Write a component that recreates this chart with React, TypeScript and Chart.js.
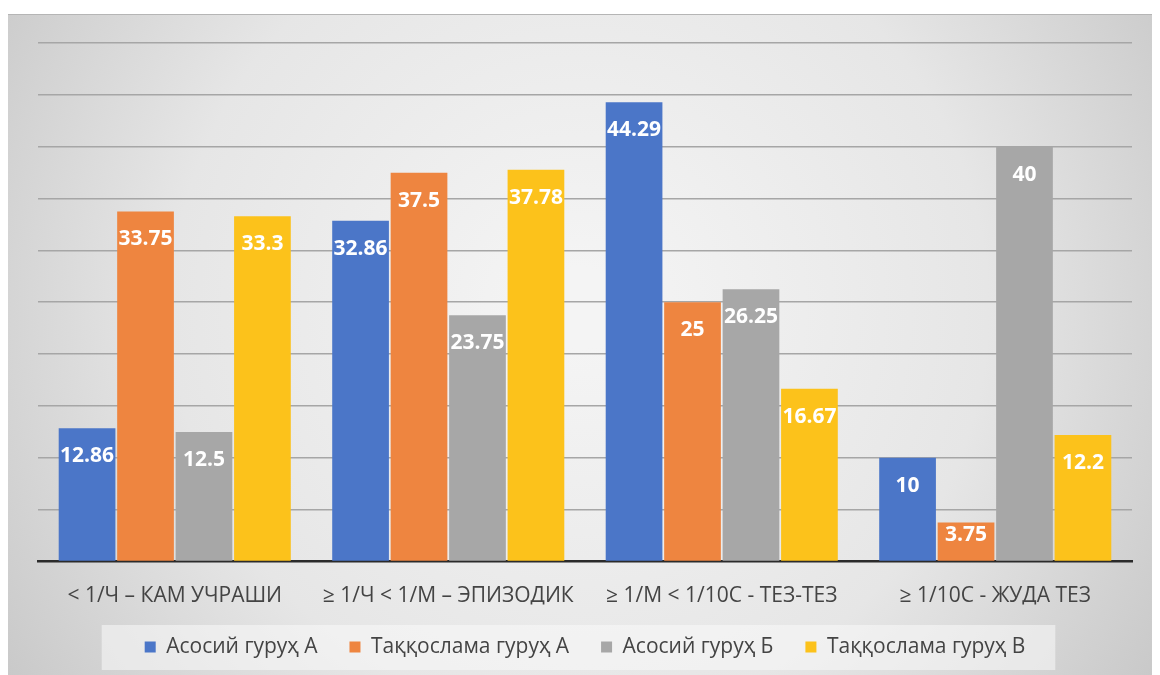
import React, { useEffect, useRef } from "react";
import { Chart, registerables } from "chart.js";

Chart.register(...registerables);

const categories = [
  "< 1/Ч – КАМ УЧРАШИ",
  "≥ 1/Ч < 1/М – ЭПИЗОДИК",
  "≥ 1/М < 1/10С - ТЕЗ-ТЕЗ",
  "≥ 1/10С - ЖУДА ТЕЗ",
];
const seriesNames = [
  "Асосий гуруҳ А",
  "Таққослама гуруҳ А",
  "Асосий гуруҳ Б",
  "Таққослама гуруҳ В",
];
const asosiyA = [12.86, 32.86, 44.29, 10];
const taqqoslamaA = [33.75, 37.5, 25, 3.75];
const asosiyB = [12.5, 23.75, 26.25, 40];
const taqqoslamaV = [33.3, 37.78, 16.67, 12.2];
const colors = ["#4b76c8", "#ee8540", "#a7a7a7", "#fcc21b"];

const FONT = "'Open Sans', 'DejaVu Sans', sans-serif";

const backgroundPlugin = {
  id: "bgPlugin",
  beforeDraw(chart: any) {
    const { ctx, width, height } = chart;
    ctx.save();
    const top = 6;
    const g = ctx.createRadialGradient(width / 2, height * 0.45, 40, width / 2, height * 0.45, width * 0.62);
    g.addColorStop(0, "#f4f4f4");
    g.addColorStop(0.55, "#e6e6e6");
    g.addColorStop(1, "#c6c6c6");
    ctx.fillStyle = g;
    ctx.fillRect(0, top, width, height - top);
    ctx.strokeStyle = "#b5b5b5";
    ctx.lineWidth = 1;
    ctx.beginPath();
    ctx.moveTo(0, top + 0.5);
    ctx.lineTo(width, top + 0.5);
    ctx.stroke();
    const lg = chart.legend;
    if (lg && lg.legendHitBoxes && lg.legendHitBoxes.length) {
      const hbs = lg.legendHitBoxes;
      let minL = Infinity, maxR = -Infinity, minT = Infinity, maxB = -Infinity;
      hbs.forEach((h: any) => {
        minL = Math.min(minL, h.left);
        maxR = Math.max(maxR, h.left + h.width);
        minT = Math.min(minT, h.top);
        maxB = Math.max(maxB, h.top + h.height);
      });
      ctx.fillStyle = "rgba(250,250,250,0.55)";
      ctx.fillRect(minL - 43, minT - 11.5, maxR - minL + 73, maxB - minT + 24);
    }
    ctx.restore();
  },
};

const labelPlugin = {
  id: "barLabels",
  afterDatasetsDraw(chart: any) {
    const { ctx } = chart;
    ctx.save();
    ctx.fillStyle = "#ffffff";
    ctx.font = `bold 21px ${FONT}`;
    ctx.textAlign = "center";
    ctx.textBaseline = "middle";
    chart.data.datasets.forEach((ds: any, i: number) => {
      const meta = chart.getDatasetMeta(i);
      meta.data.forEach((bar: any, j: number) => {
        const h = bar.base - bar.y;
        const off = Math.min(28, h / 3);
        ctx.fillText(String(ds.data[j]), bar.x, bar.y + off);
      });
    });
    ctx.restore();
  },
};

export default function App() {
  const ref = useRef<HTMLCanvasElement>(null);
  useEffect(() => {
    if (!ref.current) return;
    const datasets = [asosiyA, taqqoslamaA, asosiyB, taqqoslamaV].map((d, i) => ({
      label: seriesNames[i],
      data: d,
      backgroundColor: colors[i],
      borderWidth: 0,
      categoryPercentage: 0.855,
      barPercentage: 0.97,
    }));
    const chart = new Chart(ref.current, {
      type: "bar",
      data: { labels: categories, datasets },
      options: {
        responsive: false,
        animation: false,
        layout: { padding: { left: 30, right: 20, top: 35, bottom: 7.5 } },
        scales: {
          x: {
            grid: { display: false, drawTicks: false },
            border: { display: true, color: "#2b2b2b", width: 2.5 },
            ticks: {
              color: "#444444",
              font: { family: FONT, size: 21 },
              padding: 22,
            },
            afterFit: (scale: any) => {
              scale.height = 43;
            },
          },
          y: {
            min: 0,
            max: 50,
            ticks: { display: false, stepSize: 5 },
            border: { display: false },
            grid: {
              drawTicks: false,
              color: (c: any) => (c.tick && c.tick.value === 0 ? "rgba(0,0,0,0)" : "#a6a6a6"),
              lineWidth: 1.6,
            },
          },
        },
        plugins: {
          legend: {
            position: "bottom",
            labels: {
              color: "#444444",
              font: { family: FONT, size: 21 },
              boxWidth: 11,
              boxHeight: 11,
              padding: 32,
            },
          },
          tooltip: { enabled: false },
        },
      },
      plugins: [backgroundPlugin, labelPlugin],
    });
    return () => chart.destroy();
  }, []);
  return (
    <div style={{ width: 1144, height: 667 }}>
      <canvas ref={ref} width={1144} height={667} style={{ display: "block" }} />
    </div>
  );
}
